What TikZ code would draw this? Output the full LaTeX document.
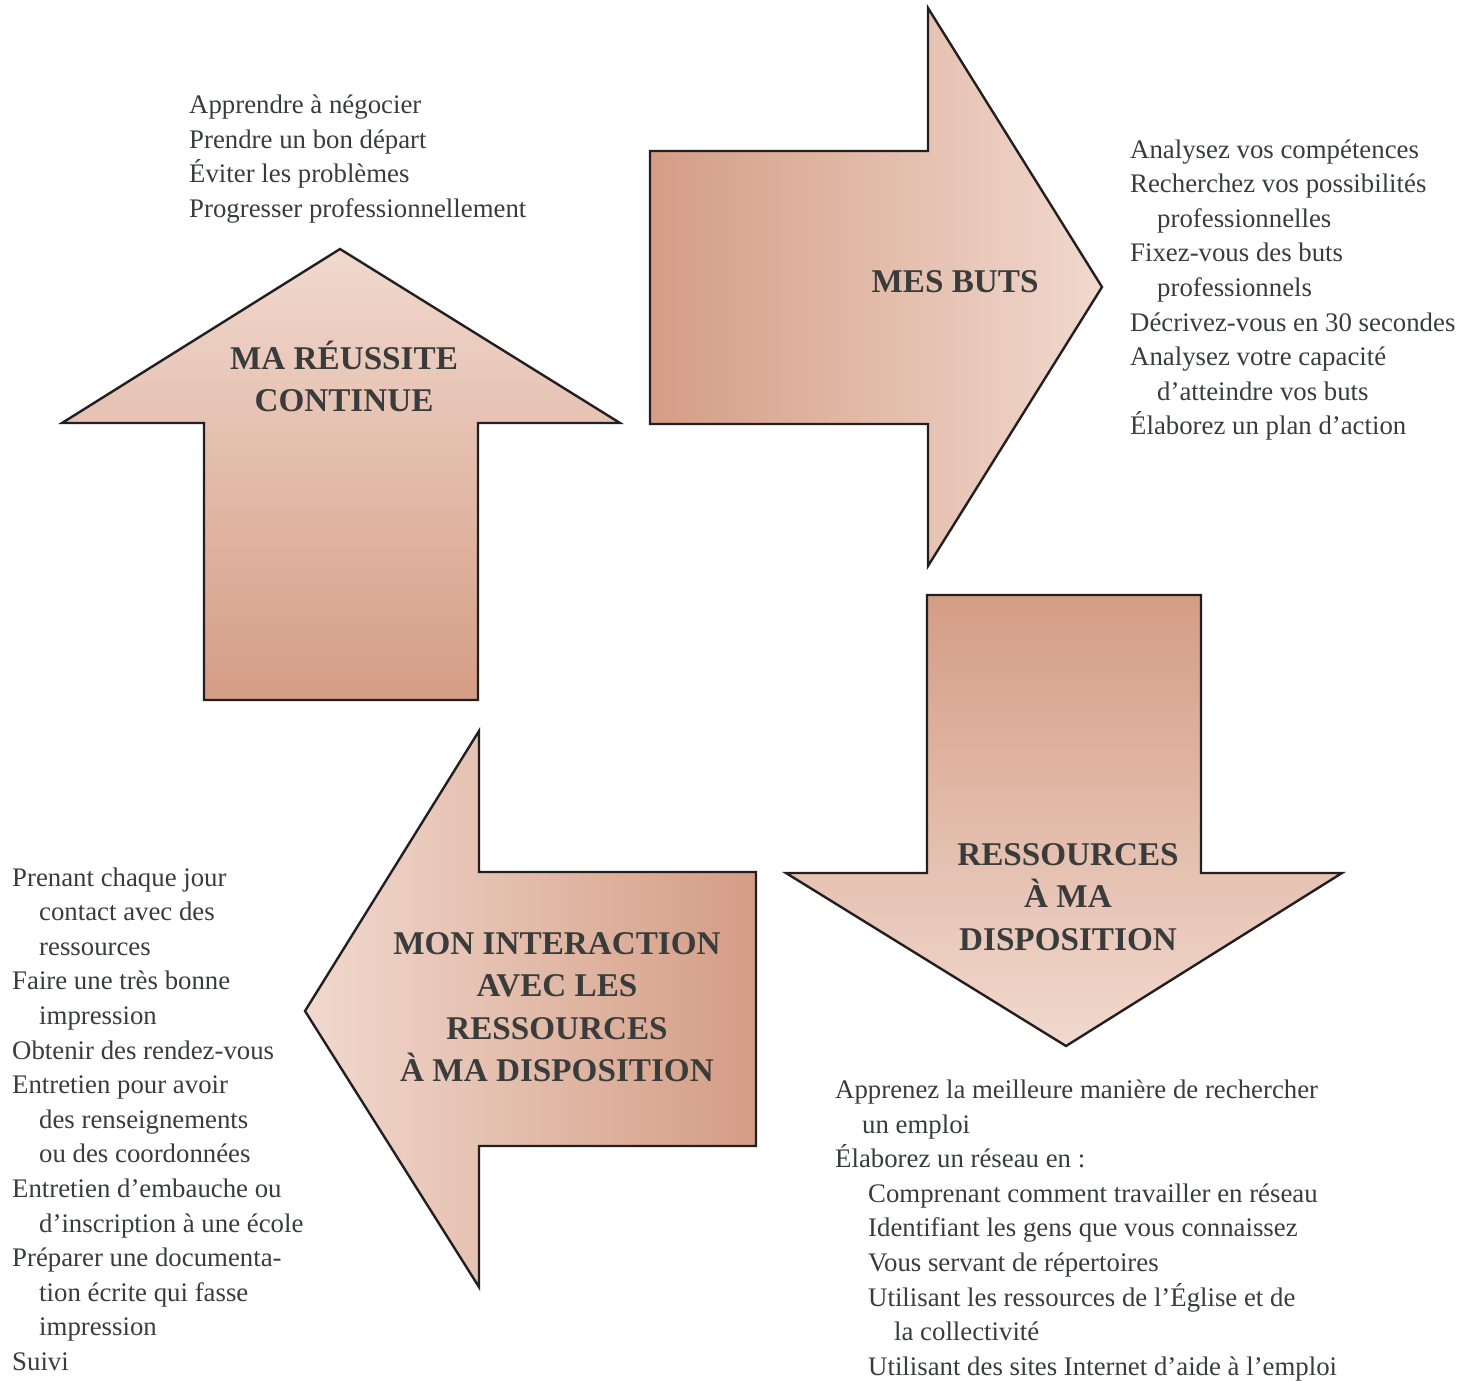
\documentclass[tikz,border=0pt]{standalone}
\usepackage{fontspec}
\setmainfont{Liberation Serif}
\definecolor{arrdark}{RGB}{212,157,133}
\definecolor{arrlight}{RGB}{241,217,206}
\definecolor{edge}{RGB}{35,31,32}
\definecolor{txt}{RGB}{58,60,60}
\newcommand\myindA{\hspace*{27pt}}
\newcommand\myindB{\hspace*{33pt}}
\newcommand\myindC{\hspace*{59pt}}
\begin{document}
\begin{tikzpicture}[x=1pt,y=-1pt,
  arrowshape/.style={draw=edge, line width=2.4pt, line join=miter},
  listtxt/.style={anchor=base west, inner sep=0pt, text=txt, font=\fontsize{26.8}{34.6}\selectfont},
  labeltxt/.style={anchor=base, inner sep=0pt, text=txt, font=\bfseries\fontsize{33.2}{42.5}\selectfont}]
\useasboundingbox (0,0) rectangle (1465,1381);

% up arrow
\shadedraw[arrowshape, top color=arrlight, bottom color=arrdark]
  (340,249) -- (620,423) -- (478,423) -- (478,700) -- (204,700) -- (204,423) -- (62,423) -- cycle;
% right arrow
\shadedraw[arrowshape, left color=arrdark, right color=arrlight]
  (650,151) -- (928,151) -- (928,8) -- (1102,287) -- (928,566) -- (928,424) -- (650,424) -- cycle;
% down arrow
\shadedraw[arrowshape, top color=arrdark, bottom color=arrlight]
  (927,595) -- (1201,595) -- (1201,873) -- (1342,873) -- (1066,1046) -- (786,873) -- (927,873) -- cycle;
% left arrow
\shadedraw[arrowshape, left color=arrlight, right color=arrdark]
  (756,872) -- (756,1146) -- (479,1146) -- (479,1287) -- (305,1011) -- (479,731) -- (479,872) -- cycle;

% labels
\node[labeltxt] (up1) at (344,369) {MA RÉUSSITE};
\node[labeltxt] (up2) at (344,411.5) {CONTINUE};
\node[labeltxt] (rt1) at (955,292) {MES BUTS};
\node[labeltxt] (dn1) at (1068,865) {RESSOURCES};
\node[labeltxt] (dn2) at (1068,907.5) {À MA};
\node[labeltxt] (dn3) at (1068,950) {DISPOSITION};
\node[labeltxt] (lf1) at (557,954) {MON INTERACTION};
\node[labeltxt] (lf2) at (557,996.5) {AVEC LES};
\node[labeltxt] (lf3) at (557,1039) {RESSOURCES};
\node[labeltxt] (lf4) at (557,1081.5) {À MA DISPOSITION};

% top-left list
\foreach \t [count=\i] in {Apprendre à négocier, Prendre un bon départ, Éviter les problèmes, Progresser professionnellement}
  \node[listtxt] (tl\i) at (189,{113.5+34.6*(\i-1)}) {\t};

% right list
\foreach \t [count=\i] in {Analysez vos compétences, Recherchez vos possibilités, \myindA professionnelles, Fixez-vous des buts, \myindA professionnels, Décrivez-vous en 30 secondes, Analysez votre capacité, \myindA d’atteindre vos buts, Élaborez un plan d’action}
  \node[listtxt] (rl\i) at (1130,{158+34.6*(\i-1)}) {\t};

% bottom-left list
\foreach \t [count=\i] in {Prenant chaque jour, \myindA contact avec des, \myindA ressources, Faire une très bonne, \myindA impression, Obtenir des rendez-vous, Entretien pour avoir, \myindA des renseignements, \myindA ou des coordonnées, Entretien d’embauche ou, \myindA d’inscription à une école, Préparer une documenta-, \myindA tion écrite qui fasse, \myindA impression, Suivi}
  \node[listtxt] (bl\i) at (12,{886+34.6*(\i-1)}) {\t};

% bottom-right list
\foreach \t [count=\i] in {Apprenez la meilleure manière de rechercher, \myindA un emploi, Élaborez un réseau en :, \myindB Comprenant comment travailler en réseau, \myindB Identifiant les gens que vous connaissez, \myindB Vous servant de répertoires, \myindB Utilisant les ressources de l’Église et de, \myindC la collectivité, \myindB Utilisant des sites Internet d’aide à l’emploi}
  \node[listtxt] (br\i) at (835,{1098.5+34.6*(\i-1)}) {\t};
\end{tikzpicture}
\end{document}
